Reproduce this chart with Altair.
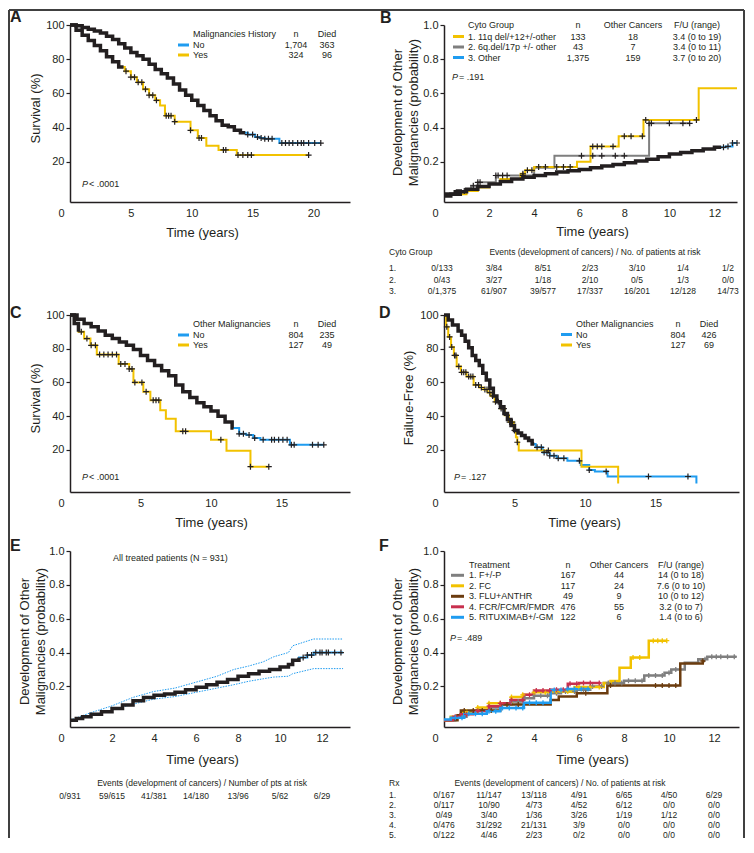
import altair as alt
import numpy as np
import pandas as pd

INK = "#231f20"
BLUE = "#1f9cf0"
GOLD = "#f2c200"
GRAY = "#7f7f7f"
BROWN = "#6b3c0f"
RED = "#c8304e"
FRAME = "#404040"
FONT = "Liberation Sans"
CROSS = "M-1,0H1M0,-1V1"

# ---------------- Panel A ----------------
A_NO_T = [0, 0.5, 1, 1.5, 2, 2.5, 3, 3.5, 4, 4.5, 5, 5.5, 6, 6.5, 7, 7.5, 8, 8.5, 9, 9.5,
          10, 10.5, 11, 11.5, 12, 12.5, 13, 13.5, 14, 14.6, 15.2, 15.6, 16, 17.2, 20.6]
A_NO_V = [100, 99.5, 98.5, 97.5, 96.5, 95.3, 93.5, 91.5, 89, 86.5, 84, 82, 80, 77, 74, 71.5, 69, 65.5, 62, 59,
          56, 53, 50, 47, 44, 41.5, 40.5, 38.5, 37, 36, 34.5, 34, 33.5, 31, 31]
A_YES_T = [0, 0.5, 1, 1.5, 2, 2.5, 3, 3.5, 4, 4.5, 5, 5.5, 6, 6.5, 7, 7.4, 7.8, 8.6, 9.9, 10.5,
           11.2, 12.2, 13.7, 19.6]
A_YES_V = [100, 97, 94, 91, 88, 85, 81.5, 78.5, 75.5, 73, 69.5, 66.5, 62.5, 59, 56, 53, 47, 43.5, 38.5, 34,
           29.5, 27, 24, 24]
A_NO_CENS = [14.6, 15.0, 15.4, 15.7, 16.0, 16.3, 16.6, 17.4, 17.7, 18.0, 18.3, 18.7, 19.0, 19.2, 19.6, 20.1, 20.6]
A_YES_CENS = [4.6, 5.0, 5.3, 5.6, 5.9, 6.2, 6.5, 6.8, 7.1, 7.9, 8.1, 8.3, 8.6, 9.9, 10.6, 10.8,
              12.6, 12.8, 13.8, 14.2, 14.6, 14.9, 19.6]
A_LEG_TITLE = "Malignancies History"
A_LABELS = ["No", "Yes"]
A_N = ["1,704", "324"]
A_DIED = ["363", "96"]

# ---------------- Panel B ----------------
B1_T = [0, 0.3, 1, 1.5, 2, 2.5, 3.4, 3.6, 4.0, 5.9, 6.5, 7.75, 8.85, 11.3, 13.0]
B1_V = [0, 0.01, 0.03, 0.05, 0.07, 0.1, 0.13, 0.15, 0.17, 0.2, 0.29, 0.35, 0.445, 0.63, 0.63]
B2_T = [0, 0.6, 1.2, 1.5, 2.3, 4.0, 4.9, 9.1, 10.9]
B2_V = [0.01, 0.03, 0.06, 0.08, 0.12, 0.165, 0.235, 0.425, 0.425]
B3_T = [0, 0.5, 1, 1.5, 2, 2.5, 3, 3.5, 4, 4.5, 5, 5.5, 6, 6.5, 7, 7.5, 8, 8.5, 9, 9.5,
        10, 10.5, 11, 11.5, 12, 12.5, 12.8, 13.0]
B3_V = [0.01, 0.025, 0.04, 0.055, 0.07, 0.085, 0.1, 0.11, 0.12, 0.13, 0.14, 0.148, 0.155, 0.165, 0.175,
        0.185, 0.195, 0.205, 0.215, 0.23, 0.245, 0.255, 0.265, 0.275, 0.285, 0.29, 0.31, 0.31]
B1_CENS = [3.5, 3.7, 3.9, 4.2, 4.5, 5.0, 5.3, 5.6, 6.6, 6.8, 7.0, 7.5, 8.0, 8.3, 8.8, 8.95, 11.2]
B2_CENS = [0.9, 1.3, 1.5, 1.6, 2.3, 2.4, 2.6, 2.8, 3.5, 6.1, 6.6, 7.0, 7.6, 8.0, 9.1, 9.2, 10.0, 10.6, 10.9]
B3_CENS = [12.4, 12.6, 12.8, 13.0]
B_HEAD = ["Cyto Group", "n", "Other Cancers", "F/U (range)"]
B_LABELS = ["1. 11q del/+12+/-other", "2. 6q.del/17p +/- other", "3. Other"]
B_N = ["133", "43", "1,375"]
B_OC = ["18", "7", "159"]
B_FU = ["3.4 (0 to 19)", "3.4 (0 to 11)", "3.7 (0 to 20)"]
B_TAB_TITLE = "Events (development of cancers) / No. of patients at risk"
B_ROWS = ["1.", "2.", "3."]
B_TAB = [["0/133", "3/84", "8/51", "2/23", "3/10", "1/4", "1/2"],
         ["0/43", "3/27", "1/18", "2/10", "0/5", "1/3", "0/0"],
         ["0/1,375", "61/907", "39/577", "17/337", "16/201", "12/128", "14/73"]]

# ---------------- Panel C ----------------
C_NO_T = [0, 0.5, 1, 1.5, 2, 2.5, 3, 3.5, 4, 4.5, 5, 5.5, 6, 6.5, 7, 7.5, 8, 8.5, 9, 9.5,
          10, 10.5, 11, 11.5, 12, 12.5, 13, 13.5, 15.5, 15.6, 18.0]
C_NO_V = [100, 97.5, 95, 93, 90.5, 88, 86, 84, 82, 79.5, 76, 73, 70, 67, 64, 58.5, 54.5, 51, 48, 45.5,
          43, 40, 36.5, 33, 29.5, 28.8, 27, 26, 26, 23, 23]
C_YES_T = [0, 0.3, 0.6, 1.0, 1.45, 1.9, 3.45, 4.2, 4.5, 5.2, 5.7, 6.4, 6.8, 7.5, 10.0, 11.1, 12.8, 14.1]
C_YES_V = [100, 95, 90, 86, 82, 76.5, 71, 68, 60, 54.5, 49.5, 43.5, 38.5, 31, 26, 19.5, 10, 10]
C_NO_CENS = [12.0, 12.3, 12.7, 13.1, 13.7, 14.3, 14.5, 14.8, 15.1, 15.4, 15.7, 15.9, 17.2, 17.6, 18.0]
C_YES_CENS = [0.8, 1.2, 1.5, 1.8, 2.1, 2.4, 2.7, 3.0, 3.3, 3.6, 3.9, 4.2, 4.4, 4.6, 5.1, 5.4, 5.9,
              6.1, 6.3, 8.0, 8.2, 10.7, 12.8, 14.1]
C_LEG_TITLE = "Other Malignancies"
C_N = ["804", "127"]
C_DIED = ["235", "49"]

# ---------------- Panel D ----------------
D_NO_T = [0, 0.3, 0.6, 1.0, 1.25, 1.5, 1.75, 2.0, 2.25, 2.5, 2.75, 3.0, 3.25, 3.5, 3.75, 4.0, 4.25,
          4.5, 4.75, 5.0, 5.25, 5.5, 5.75, 6.0, 6.25, 6.5, 7.0, 7.5, 8.0,
          8.75, 9.7, 10.3, 10.7, 11.6, 17.9, 17.9]
D_NO_V = [100, 97, 94, 90.5, 88, 84.5, 80.5, 76, 73, 70, 65.5, 61.5, 56.5, 52, 48.5, 45.5, 41.5,
          38, 34.5, 31.5, 30, 28.5, 27, 25.5, 23.5, 21.5, 18.5, 16.5, 15,
          13.5, 11, 8, 7.2, 4.2, 4.2, 0]
D_YES_T = [0, 0.15, 0.3, 0.5, 0.7, 0.9, 1.2, 1.6, 2.1, 2.5, 2.8, 3.1, 3.3, 3.6, 4.0, 4.3, 4.6, 4.95,
           5.1, 5.2, 5.3, 9.75, 12.35, 12.35]
D_YES_V = [100, 93, 87, 81, 76, 69.5, 66, 63.5, 58.5, 57, 55.8, 54, 52, 48.5, 44.5, 40.5, 36.5, 31.5,
           27.5, 24.5, 19.6, 10, 10, 0]
D_NO_CENS = [6.6, 6.9, 7.1, 7.3, 7.5, 7.8, 8.1, 8.5, 9.6, 10.3, 11.5, 14.5, 17.3]
D_YES_CENS = [0.2, 0.4, 0.55, 0.75, 0.85, 1.05, 1.25, 1.4, 1.55, 1.75, 1.9, 2.05, 2.25, 2.45, 2.65,
              2.9, 3.05, 3.25, 3.45, 3.65, 3.85, 4.05, 4.25, 4.45, 4.65, 4.85, 5.0, 5.2, 7.4]
D_N = ["804", "127"]
D_DIED = ["426", "69"]

# ---------------- Panel E ----------------
E_T = [0, 0.3, 0.6, 1, 1.5, 2, 2.5, 3, 3.5, 4, 4.5, 5, 5.5, 6, 6.5, 7, 7.5, 8, 8.5, 9,
       9.5, 10, 10.4, 10.6, 10.9, 11.3, 11.6, 13.0]
E_V = [0, 0.01, 0.02, 0.035, 0.05, 0.07, 0.09, 0.115, 0.135, 0.148, 0.155, 0.165, 0.18, 0.195, 0.21,
       0.225, 0.24, 0.26, 0.275, 0.29, 0.30, 0.315, 0.33, 0.355, 0.37, 0.385, 0.40, 0.40]
E_CI_T = [0, 1, 2, 3, 4, 5, 6, 7, 7.8, 8.5, 9.2, 9.7, 10.4, 10.6, 11.1, 11.6, 13.0]
E_UP_V = [0, 0.045, 0.085, 0.135, 0.17, 0.19, 0.225, 0.26, 0.30, 0.32, 0.345, 0.375, 0.40, 0.44, 0.46, 0.48, 0.48]
E_LO_V = [0, 0.025, 0.06, 0.095, 0.125, 0.14, 0.165, 0.19, 0.21, 0.23, 0.245, 0.255, 0.26, 0.275, 0.29, 0.305, 0.305]
E_CENS = [11.1, 11.3, 11.5, 11.7, 11.9, 12.0, 12.2, 12.3, 12.6, 12.9]
E_NOTE = "All treated patients (N = 931)"
E_TAB_TITLE = "Events (development of cancers) / Number of pts at risk"
E_TAB = ["0/931", "59/615", "41/381", "14/180", "13/96", "5/62", "6/29"]

# ---------------- Panel F ----------------
F1_T = [0, 0.5, 1, 1.5, 2, 2.5, 3, 3.5, 4, 4.7, 5.2, 5.9, 6.5, 7.1, 8.0, 8.9, 9.8, 10.1, 10.7, 11.3, 11.7, 13.0]
F1_V = [0, 0.02, 0.04, 0.06, 0.075, 0.095, 0.11, 0.13, 0.145, 0.16, 0.17, 0.18, 0.2, 0.22, 0.233, 0.265,
        0.28, 0.30, 0.34, 0.36, 0.375, 0.375]
F2_T = [0, 0.3, 0.8, 1.5, 2, 3, 3.5, 4, 4.7, 5.8, 7.1, 7.4, 7.8, 8.3, 9.1, 9.9]
F2_V = [0, 0.02, 0.05, 0.075, 0.1, 0.137, 0.15, 0.165, 0.17, 0.196, 0.22, 0.232, 0.31, 0.37, 0.47, 0.47]
F3_T = [0, 0.6, 0.75, 2.5, 4.74, 5.1, 5.9, 7.26, 10.5, 11.5, 11.6]
F3_V = [0, 0.03, 0.058, 0.093, 0.12, 0.14, 0.16, 0.205, 0.335, 0.35, 0.35]
F4_T = [0, 0.4, 0.74, 1.3, 2.0, 2.5, 2.96, 3.55, 4.0, 4.74, 5.5, 6.0, 6.96]
F4_V = [0, 0.02, 0.035, 0.055, 0.083, 0.1, 0.12, 0.15, 0.175, 0.18, 0.215, 0.22, 0.22]
F5_T = [0, 0.3, 0.9, 1.9, 2.5, 3.55, 4.74, 5.5, 6.5]
F5_V = [0.005, 0.015, 0.038, 0.053, 0.073, 0.103, 0.178, 0.185, 0.185]
F1_CENS = [3.0, 3.3, 3.6, 4.0, 4.3, 4.6, 5.0, 5.4, 5.8, 6.2, 6.6, 7.0, 7.3, 7.6, 7.9, 8.2, 8.5, 8.8, 9.1,
           9.4, 9.7, 10.0, 10.3, 11.6, 11.9, 12.1, 12.3, 12.6, 12.9]
F2_CENS = [1.0, 1.5, 2.0, 2.5, 3.0, 3.5, 4.0, 4.5, 5.0, 5.5, 6.0, 6.5, 6.9, 8.4, 8.7, 9.3, 9.5, 9.7, 9.9]
F3_CENS = [0.9, 1.3, 1.7, 2.1, 2.8, 3.3, 6.3, 7.4, 9.4, 9.7, 10.0, 10.3, 11.5]
F4_CENS = [0.5, 1.0, 1.5, 2.0, 2.5, 3.0, 3.5, 3.8, 4.1, 4.4, 4.7, 5.0, 5.3, 5.6, 5.9, 6.2, 6.5, 6.9]
F5_CENS = [0.5, 0.8, 1.1, 1.4, 1.7, 2.0, 2.3, 2.6, 2.9, 3.2, 3.5, 3.8, 4.1, 4.4, 4.9, 5.2, 5.5, 5.8, 6.1, 6.4]
F_HEAD = ["Treatment", "n", "Other Cancers", "F/U (range)"]
F_LABELS = ["1. F+/-P", "2. FC", "3. FLU+ANTHR", "4. FCR/FCMR/FMDR", "5. RITUXIMAB+/-GM"]
F_N = ["167", "117", "49", "476", "122"]
F_OC = ["44", "24", "9", "55", "6"]
F_FU = ["14 (0 to 18)", "7.6 (0 to 10)", "10 (0 to 12)", "3.2 (0 to 7)", "1.4 (0 to 6)"]
F_ROWS = ["1.", "2.", "3.", "4.", "5."]
F_TAB = [["0/167", "11/147", "13/118", "4/91", "6/65", "4/50", "6/29"],
         ["0/117", "10/90", "4/73", "4/52", "6/12", "0/0", "0/0"],
         ["0/49", "3/40", "1/36", "3/26", "1/19", "1/12", "0/0"],
         ["0/476", "31/292", "21/131", "3/9", "0/0", "0/0", "0/0"],
         ["0/122", "4/46", "2/23", "0/2", "0/0", "0/0", "0/0"]]
TAB_TIMES = [0, 2, 4, 6, 8, 10, 12]


# ---------------- helpers ----------------
def step_at(ts, vs, x):
    i = int(np.searchsorted(np.asarray(ts, float), x, side="right")) - 1
    return vs[max(i, 0)]


def txt(s, x, y, size=9, align="left", weight="normal", style="normal", color=INK):
    return alt.Chart(pd.DataFrame({"s": [s]})).mark_text(
        align=align, baseline="middle", fontSize=size, fontWeight=weight, fontStyle=style,
        color=color, font=FONT).encode(x=alt.value(x), y=alt.value(y), text="s:N")


def hrule(x1, x2, y, color, width):
    return alt.Chart(pd.DataFrame({"k": [0]})).mark_rule(color=color, strokeWidth=width).encode(
        x=alt.value(x1), x2=alt.value(x2), y=alt.value(y))


def vrule(x, y1, y2, color, width):
    return alt.Chart(pd.DataFrame({"k": [0]})).mark_rule(color=color, strokeWidth=width).encode(
        x=alt.value(x), y=alt.value(y1), y2=alt.value(y2))


def legend(x1, x2, xl, yh, ys, header, labels, colors, cols, size=9):
    L = [txt(header, xl, yh, size)]
    for xc, head, vals in cols:
        L.append(txt(head, xc, yh, size, align="center"))
        for y, v in zip(ys, vals):
            L.append(txt(v, xc, y, size, align="center"))
    for y, lab, col in zip(ys, labels, colors):
        L.append(hrule(x1, x2, y, col, 3))
        L.append(txt(lab, xl, y, size))
    return L


def pval(x, y, rest):
    return [txt("P", x, y, 9, style="italic"), txt(rest, x + 7, y, 9)]


def scale_row(X, vals, y, size=8.5):
    return alt.Chart(pd.DataFrame({"t": TAB_TIMES, "s": vals})).mark_text(
        fontSize=size, align="center", baseline="middle", color=INK, font=FONT).encode(
        x=X, y=alt.value(y), text="s:N")


def km_panel(curves, w, h, xdom, ydom, xvals, yvals, yfmt, ytitle, ytx, yty, xtx, xty,
             extra_fn, yrange=None, ci=None, lw=2.0, csize=36, cw=1.2):
    if yrange is None:
        ysc = alt.Scale(domain=ydom, nice=False, zero=False)
    else:
        ysc = alt.Scale(domain=ydom, range=yrange, nice=False, zero=False)
    X = alt.X("t:Q", scale=alt.Scale(domain=xdom, nice=False, zero=False),
              axis=alt.Axis(values=xvals, title="Time (years)", ticks=False, tickSize=0,
                            labelPadding=5, labelFontSize=11, labelFlush=False,
                            labelOffset={"condition": {"test": "datum.value === 0", "value": -9}, "value": 0},
                            titleX=xtx, titleY=xty, titleAlign="center", titleBaseline="middle",
                            titleFontSize=13, titleFontWeight="normal"))
    Y = alt.Y("v:Q", scale=ysc,
              axis=alt.Axis(values=yvals, format=yfmt, title=ytitle, tickSize=4, labelPadding=2,
                            labelFontSize=11, titleX=ytx, titleY=yty, titleAngle=270,
                            titleAlign="center", titleBaseline="middle", titleFontSize=13,
                            titleFontWeight="normal", titleLineHeight=16))
    lines, dense, crosses = [], [], []
    for c in curves:
        last = 0
        for i, (t, v) in enumerate(zip(c["t"], c["v"])):
            lines.append({"t": t, "v": v, "g": c["name"], "col": c["color"], "i": i})
            if c.get("dense", 0) > 0 and t <= c["dense"]:
                dense.append({"t": t, "v": v, "g": c["name"], "i": i})
                last = i
        if c.get("dense", 0) > 0:
            dense.append({"t": c["dense"], "v": step_at(c["t"], c["v"], c["dense"]),
                          "g": c["name"], "i": last + 0.5})
        for t in c.get("cens", []):
            crosses.append({"t": t, "v": step_at(c["t"], c["v"], t), "cc": c.get("cc", INK)})
    layers = []
    if ci is not None:
        layers.append(alt.Chart(pd.DataFrame(ci)).mark_line(
            strokeWidth=1, color=BLUE, strokeDash=[1.5, 1.2]).encode(
            x=X, y=Y, detail="g:N", order="i:Q"))
    layers.append(alt.Chart(pd.DataFrame(lines)).mark_line(
        interpolate="step-after", strokeWidth=lw).encode(
        x=X, y=Y, color=alt.Color("col:N", scale=None), detail="g:N", order="i:Q"))
    if dense:
        layers.append(alt.Chart(pd.DataFrame(dense)).mark_line(
            interpolate="step-after", strokeWidth=3.5, color=INK).encode(
            x=X, y=Y, detail="g:N", order="i:Q"))
    if crosses:
        layers.append(alt.Chart(pd.DataFrame(crosses)).mark_point(
            shape=CROSS, filled=False, size=csize, strokeWidth=cw, opacity=1).encode(
            x=X, y=Y, color=alt.Color("cc:N", scale=None)))
    layers += extra_fn(X, Y)
    return alt.layer(*layers).properties(width=w, height=h)


def frame():
    return [vrule(-61, -15, 813, FRAME, 2), hrule(-61, 674, -15, FRAME, 2),
            vrule(674, -15, 813, FRAME, 2)]


# ---------------- panels ----------------
TWO_LINE = ["Development of Other", "Malignancies (probability)"]
PROB_TICKS = [0.2, 0.4, 0.6, 0.8, 1.0]
PCT_TICKS = [20, 40, 60, 80, 100]


def extraA(X, Y):
    L = [txt("A", -60, -8.5, 16, weight="bold")] + frame()
    L += legend(108, 119, 123, 9, [20, 30], A_LEG_TITLE, A_LABELS, [BLUE, GOLD],
                [(226, "n", A_N), (257, "Died", A_DIED)])
    L += pval(12, 159, "< .0001")
    return L


pA = km_panel([dict(name="No", t=A_NO_T, v=A_NO_V, color=BLUE, dense=14.4, cens=A_NO_CENS),
               dict(name="Yes", t=A_YES_T, v=A_YES_V, color=GOLD, dense=4.4, cens=A_YES_CENS)],
              280, 177, [0, 23], [-3.4, 100], [0, 5, 10, 15, 20], PCT_TICKS, "d",
              "Survival (%)", -35, 83, 132, 30, extraA)

B_COL_X = [-2, 50, 99, 146, 193, 239, 284]


def extraB(X, Y):
    L = [txt("B", -64, -7, 16, weight="bold")]
    L += legend(9, 20, 24, 0, [11.5, 22, 32.5], B_HEAD[0], B_LABELS, [GOLD, GRAY, BLUE],
                [(134, B_HEAD[1], B_N), (189, B_HEAD[2], B_OC), (253, B_HEAD[3], B_FU)])
    L += pval(8, 52, "= .191")
    L += [txt(B_HEAD[0], -55, 227, 8.5), txt(B_TAB_TITLE, 151, 227, 8.5, align="center")]
    for y, lab, row in zip([243, 254.5, 266], B_ROWS, B_TAB):
        L.append(txt(lab, -55, y, 8.5))
        for x, s in zip(B_COL_X, row):
            L.append(txt(s, x, y, 8.5, align="center"))
    return L


pB = km_panel([dict(name="3", t=B3_T, v=B3_V, color=BLUE, dense=12.3, cens=B3_CENS),
               dict(name="2", t=B2_T, v=B2_V, color=GRAY, dense=0.8, cens=B2_CENS),
               dict(name="1", t=B1_T, v=B1_V, color=GOLD, dense=0.8, cens=B1_CENS)],
              293, 177, [0, 13], [-0.035, 1.0], TAB_TIMES, PROB_TICKS, ".1f",
              TWO_LINE, -47, 87, 148, 29, extraB)

OY = 54


def extraC(X, Y):
    L = [txt("C", -60, -2 + OY, 16, weight="bold")]
    L += legend(108, 119, 123, 9 + OY, [20 + OY, 30 + OY], C_LEG_TITLE, A_LABELS, [BLUE, GOLD],
                [(226, "n", C_N), (257, "Died", C_DIED)])
    L += pval(12, 162 + OY, "< .0001")
    return L


pC = km_panel([dict(name="No", t=C_NO_T, v=C_NO_V, color=BLUE, dense=11.6, cens=C_NO_CENS),
               dict(name="Yes", t=C_YES_T, v=C_YES_V, color=GOLD, dense=0.6, cens=C_YES_CENS)],
              280, 231, [0, 19.86], [-5, 100], [0, 5, 10, 15], PCT_TICKS, "d",
              "Survival (%)", -35, 83 + OY, 141, 30, extraC, yrange=[231, OY])


def extraD(X, Y):
    L = [txt("D", -65, -2 + OY, 16, weight="bold")]
    L += legend(117, 128, 132, 9 + OY, [19.5 + OY, 30 + OY], C_LEG_TITLE, A_LABELS, [BLUE, GOLD],
                [(234, "n", D_N), (265, "Died", D_DIED)])
    L += pval(10, 162 + OY, "= .127")
    return L


pD = km_panel([dict(name="No", t=D_NO_T, v=D_NO_V, color=BLUE, dense=6.4, cens=D_NO_CENS),
               dict(name="Yes", t=D_YES_T, v=D_YES_V, color=GOLD, cens=D_YES_CENS)],
              295, 231, [0, 20.92], [-5, 100], [0, 5, 10, 15], PCT_TICKS, "d",
              "Failure-Free (%)", -36, 82.5 + OY, 140, 30, extraD, yrange=[231, OY])


def extraE(X, Y):
    L = [txt("E", -60, -5, 16, weight="bold"), txt(E_NOTE, 43, 7, 9)]
    L += [txt(E_TAB_TITLE, 132, 232, 8.5, align="center"), scale_row(X, E_TAB, 245)]
    return L


E_CI = ([{"t": t, "v": v, "g": "up", "i": i} for i, (t, v) in enumerate(zip(E_CI_T, E_UP_V))] +
        [{"t": t, "v": v, "g": "lo", "i": i} for i, (t, v) in enumerate(zip(E_CI_T, E_LO_V))])

pE = km_panel([dict(name="all", t=E_T, v=E_V, color=BLUE, dense=10.9, cens=E_CENS)],
              280, 176, [0, 13.33], [-0.04, 1.0], TAB_TIMES, PROB_TICKS, ".1f",
              TWO_LINE, -46, 90, 132, 32, extraE, ci=E_CI)


def extraF(X, Y):
    L = [txt("F", -65, -5, 16, weight="bold")]
    L += legend(7, 20, 25, 14.3, [24.3, 34.8, 45.3, 55.8, 66.3], F_HEAD[0], F_LABELS,
                [GRAY, GOLD, BROWN, RED, BLUE],
                [(124, F_HEAD[1], F_N), (175, F_HEAD[2], F_OC), (237, F_HEAD[3], F_FU)])
    L += pval(6, 87, "= .489")
    L += [txt("Rx", -55, 232, 8.5), txt(B_TAB_TITLE, 116, 232, 8.5, align="center")]
    for y, lab, row in zip([243.5, 253.5, 263.5, 273.5, 283.5], F_ROWS, F_TAB):
        L.append(txt(lab, -55, y, 8.5))
        L.append(scale_row(X, row, y))
    return L


pF = km_panel([dict(name="1", t=F1_T, v=F1_V, color=GRAY, cens=F1_CENS, cc=GRAY),
               dict(name="2", t=F2_T, v=F2_V, color=GOLD, cens=F2_CENS, cc=GOLD),
               dict(name="3", t=F3_T, v=F3_V, color=BROWN, cens=F3_CENS, cc=BROWN),
               dict(name="4", t=F4_T, v=F4_V, color=RED, cens=F4_CENS, cc=RED),
               dict(name="5", t=F5_T, v=F5_V, color=BLUE, cens=F5_CENS, cc=BLUE)],
              295, 176, [0, 13.11], [-0.04, 1.0], TAB_TIMES, PROB_TICKS, ".1f",
              TWO_LINE, -47, 90, 148, 32, extraF, lw=2.5, csize=25, cw=1.3)

chart = alt.concat(pA, pB, pC, pD, pE, pF, columns=2,
                   spacing={"row": 59, "column": 94}, bounds="flush", align="each").properties(
    padding=0
).configure(font=FONT).configure_view(strokeWidth=0).configure_axis(
    domainColor=INK, domainWidth=1.5, tickColor=INK, tickWidth=1.2, labelColor=INK,
    titleColor=INK, grid=False, labelFont=FONT, titleFont=FONT)

chart.save("out.html", embed_options={"renderer": "svg", "actions": False})
